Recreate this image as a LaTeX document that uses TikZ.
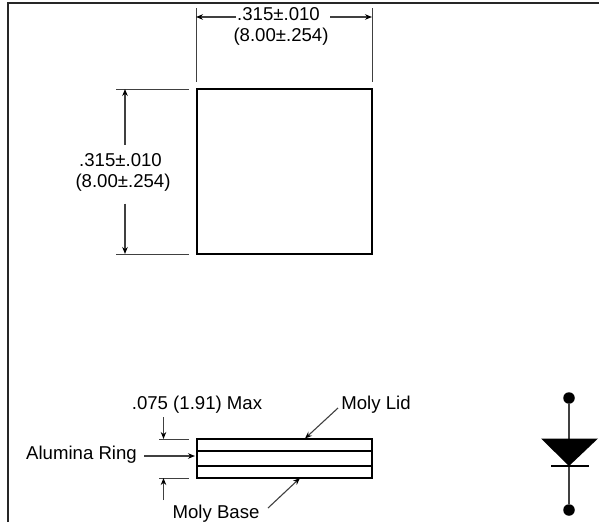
\documentclass[tikz,border=0pt]{standalone}
\usepackage{fontspec}
\setmainfont{Liberation Sans}
\usetikzlibrary{arrows.meta}
\tikzset{
  x=1pt,y=-1pt,
  lbl/.style={inner sep=0pt,font=\fontsize{18.6}{21}\selectfont,text=black,align=center},
  part/.style={draw=black,line width=1.9pt},
  ext/.style={draw=black!75,line width=1pt},
  dim/.style={draw=black!75,line width=1.1pt,-{Stealth[length=7pt,width=5.5pt,black]}},
  pin/.style={draw=black!75,line width=1.6pt},
  dot/.style={circle,fill=black,inner sep=0pt,minimum size=11.5pt},
}
\begin{document}
\begin{tikzpicture}
\useasboundingbox (0,0) rectangle (599,522);
\draw[line width=2pt,draw=black!85] (8,522) -- (8,3) -- (599,3);
% top view
\path (197,89) coordinate (tl) (372,89) coordinate (tr) (372,254) coordinate (br) (197,254) coordinate (bl);
\draw[part] (tl) -- (tr) -- (br) -- (bl) -- cycle;
% horizontal dimension
\coordinate (e1a) at (196,8); \coordinate (e1b) at (196,82);
\coordinate (e2a) at (372,8); \coordinate (e2b) at (372,82);
\draw[ext] (e1a) -- (e1b); \draw[ext] (e2a) -- (e2b);
\node[lbl] (hd) at (281,26) {.315±.010\hspace*{5pt}\\(8.00±.254)};
\coordinate (h1) at (236,17); \coordinate (h2) at (330,17);
\draw[dim] (h1) -- (e1a |- h1);
\draw[dim] (h2) -- (e2a |- h2);
% vertical dimension
\coordinate (v1a) at (116,89); \coordinate (v1b) at (189,89);
\coordinate (v2a) at (116,254); \coordinate (v2b) at (189,254);
\draw[ext] (v1a) -- (v1b); \draw[ext] (v2a) -- (v2b);
\node[lbl] (vd) at (123,172) {.315±.010\hspace*{5pt}\\(8.00±.254)};
\coordinate (v1) at (125,144.5); \coordinate (v2) at (125,203.5);
\draw[dim] (v1) -- (v1 |- v1a);
\draw[dim] (v2) -- (v2 |- v2a);
% side view
\path (197,439) coordinate (stl) (372,439) coordinate (str) (372,478) coordinate (sbr) (197,478) coordinate (sbl);
\draw[part] (stl) -- (str) -- (sbr) -- (sbl) -- cycle;
\path (197,451) coordinate (l1a) (372,451) coordinate (l1b) (197,466) coordinate (l2a) (372,466) coordinate (l2b);
\draw[part] (l1a) -- (l1b);
\draw[part] (l2a) -- (l2b);
% thickness
\coordinate (t1a) at (159,439); \coordinate (t1b) at (189,439);
\coordinate (t2a) at (159,478); \coordinate (t2b) at (189,478);
\draw[ext] (t1a) -- (t1b); \draw[ext] (t2a) -- (t2b);
\node[lbl] (thk) at (197,404.5) {.075 (1.91) Max};
\coordinate (ta) at (163.5,417); \coordinate (tb) at (163.5,500);
\draw[dim] (ta) -- (ta |- t1a);
\draw[dim] (tb) -- (tb |- t2a);
% labels
\node[lbl] (ring) at (81.5,454.5) {Alumina Ring};
\coordinate (rs) at (144,456);
\draw[dim] (rs) -- (195,456);
\node[lbl] (lid) at (376,405) {Moly Lid};
\coordinate (lt) at (305,438.5);
\coordinate (ls) at (338,408);
\draw[dim] (ls) -- (lt);
\node[lbl] (base) at (216,513.5) {Moly Base};
\coordinate (bt) at (300,478);
\coordinate (bs) at (268,508);
\draw[dim] (bs) -- (bt);
% diode
\node[dot] (d1) at (569,398) {};
\node[dot] (d2) at (569,510) {};
\coordinate (ta1) at (541,438.5); \coordinate (ta2) at (598,438.5); \coordinate (tip) at (569,466);
\draw[pin] (d1) -- (d2);
\fill[black] (ta1) -- (ta2) -- (tip) -- cycle;
\coordinate (b1) at (551,466); \coordinate (b2) at (589,466);
\draw[draw=black,line width=1.1pt] (b1) -- (b2);
\end{tikzpicture}
\end{document}
